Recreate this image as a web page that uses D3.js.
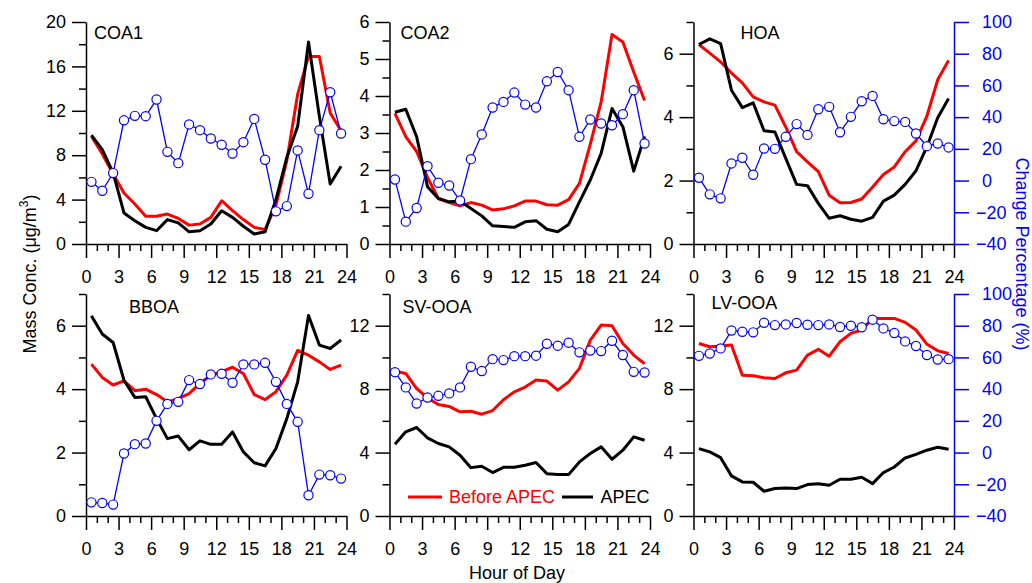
<!DOCTYPE html>
<html>
<head>
<meta charset="utf-8">
<script src="https://cdn.jsdelivr.net/npm/d3@7"></script>
<style>
  html, body { margin: 0; padding: 0; background: #fff; }
  svg { display: block; font-family: "Liberation Sans", Arial, sans-serif; }
</style>
</head>
<body>
<svg id="chart" width="1032" height="583"></svg>
<script>
// Hourly diurnal cycles (hour 0.5 ... 23.5) of OA factors before and during APEC
const hours = d3.range(24).map(h => h + 0.5);

const coa1Before = [9.7, 8.1, 6.3, 4.6, 3.6, 2.5, 2.5, 2.7, 2.3, 1.7, 1.8, 2.4, 3.9, 3.0, 2.2, 1.5, 1.3, 3.5, 7.5, 13.5, 16.9, 16.9, 11.8, 10.2];
const coa1Apec   = [9.8, 8.5, 6.4, 2.8, 2.1, 1.5, 1.2, 2.2, 1.9, 1.1, 1.2, 1.8, 3.0, 2.4, 1.6, 0.9, 1.1, 4.0, 7.8, 10.6, 18.2, 11.5, 5.4, 7.0];
const coa1Change = [-0.8, -6.4, 4.7, 38.0, 40.8, 40.6, 51.1, 18.1, 11.0, 35.4, 31.8, 26.5, 22.6, 17.1, 24.2, 38.9, 13.1, -19.4, -16.1, 19.0, -8.3, 31.8, 55.7, 29.7];

const coa2Before = [3.53, 2.9, 2.5, 1.8, 1.23, 1.12, 1.03, 1.12, 1.05, 0.92, 0.95, 1.03, 1.16, 1.16, 1.06, 1.05, 1.2, 1.64, 2.7, 3.84, 5.66, 5.46, 4.65, 3.88];
const coa2Apec   = [3.56, 3.64, 2.9, 1.55, 1.23, 1.14, 1.16, 0.96, 0.76, 0.49, 0.47, 0.45, 0.6, 0.63, 0.4, 0.33, 0.53, 1.14, 1.73, 2.45, 3.66, 3.17, 1.97, 2.91];
const coa2Change = [0.7, -25.9, -17.3, 9.1, -1.4, -3.1, -12.5, 13.5, 29.1, 46.1, 49.6, 55.5, 47.9, 46.1, 62.6, 68.5, 57.0, 27.6, 38.5, 36.0, 34.9, 41.9, 57.0, 23.4];

const hoaBefore = [6.29, 6.02, 5.74, 5.39, 5.08, 4.64, 4.48, 4.38, 3.69, 2.91, 2.59, 2.28, 1.54, 1.30, 1.31, 1.42, 1.80, 2.19, 2.43, 2.91, 3.25, 4.03, 5.18, 5.79];
const hoaApec   = [6.29, 6.47, 6.32, 4.85, 4.30, 4.45, 3.57, 3.53, 2.70, 1.88, 1.84, 1.28, 0.81, 0.89, 0.78, 0.72, 0.84, 1.35, 1.54, 1.88, 2.31, 3.06, 3.98, 4.59];
const hoaChange = [1.8, -8.7, -11.2, 10.8, 14.4, 3.7, 20.2, 20.0, 27.6, 35.6, 28.8, 45.0, 46.5, 30.5, 40.2, 50.0, 53.4, 38.7, 37.5, 37.0, 29.7, 21.7, 23.4, 20.9];

const bboaBefore = [4.79, 4.37, 4.13, 4.26, 3.95, 4.0, 3.83, 3.6, 3.7, 3.86, 4.18, 4.44, 4.55, 4.69, 4.49, 3.83, 3.67, 3.92, 4.44, 5.22, 5.07, 4.86, 4.62, 4.76];
const bboaApec   = [6.31, 5.74, 5.47, 4.28, 3.74, 3.76, 3.07, 2.44, 2.52, 2.09, 2.37, 2.26, 2.26, 2.65, 2.02, 1.68, 1.58, 2.13, 3.07, 4.23, 6.32, 5.39, 5.28, 5.55];
const bboaChange = [-31.4, -31.8, -32.8, -0.6, 5.3, 5.7, 20.0, 30.7, 32.0, 45.7, 43.2, 49.3, 49.7, 44.0, 55.6, 55.6, 56.6, 44.6, 30.7, 19.4, -26.9, -13.9, -14.3, -16.4];

const svooaBefore = [9.14, 8.99, 8.04, 7.45, 7.03, 6.91, 6.57, 6.61, 6.42, 6.65, 7.33, 7.83, 8.13, 8.57, 8.51, 7.94, 8.46, 9.31, 11.09, 12.04, 12.0, 10.88, 10.15, 9.6];
const svooaApec   = [4.53, 5.31, 5.58, 4.93, 4.57, 4.36, 3.83, 3.05, 3.14, 2.74, 3.07, 3.07, 3.2, 3.37, 2.67, 2.61, 2.61, 3.41, 3.94, 4.36, 3.58, 4.15, 4.99, 4.78];
const svooaChange = [50.7, 41.1, 30.9, 34.7, 35.8, 37.3, 41.1, 54.1, 51.4, 58.9, 58.3, 60.8, 60.8, 61.1, 68.6, 67.4, 69.3, 63.2, 64.4, 64.0, 70.5, 61.5, 50.9, 50.5];

const lvooaBefore = [10.88, 10.67, 10.72, 10.78, 8.88, 8.84, 8.72, 8.67, 9.03, 9.2, 10.15, 10.51, 10.08, 10.99, 11.52, 11.73, 12.46, 12.46, 12.46, 12.21, 11.73, 10.84, 10.42, 10.25];
const lvooaApec   = [4.25, 4.04, 3.68, 2.53, 2.15, 2.13, 1.56, 1.73, 1.77, 1.73, 1.98, 2.04, 1.94, 2.32, 2.32, 2.44, 2.04, 2.74, 3.09, 3.66, 3.89, 4.15, 4.34, 4.21];
const lvooaChange = [61.0, 62.5, 65.7, 77.0, 76.2, 75.8, 81.9, 80.4, 80.8, 81.7, 80.6, 80.4, 80.8, 79.2, 80.0, 79.0, 83.8, 78.3, 75.4, 70.1, 67.2, 61.5, 58.7, 58.9];

const hourTicks = d3.range(0, 25);
const changeTicks = d3.range(-40, 101, 20);
const legendLabels = ["Before APEC", "APEC"];

const RED = "#ff0000", BLUE = "#0000ff", BLACK = "#000000";
const FONT = 18;

const panels = [
  { name: "COA1",   before: coa1Before,  apec: coa1Apec,  change: coa1Change,  yMax: 20, major: 4, minor: 2,   col: 0, row: 0, titleX: 8,  titleY: 17 },
  { name: "COA2",   before: coa2Before,  apec: coa2Apec,  change: coa2Change,  yMax: 6,  major: 1, minor: 0.5, col: 1, row: 0, titleX: 11, titleY: 17 },
  { name: "HOA",    before: hoaBefore,   apec: hoaApec,   change: hoaChange,   yMax: 7,  major: 2, minor: 1,   col: 2, row: 0, titleX: 47, titleY: 17 },
  { name: "BBOA",   before: bboaBefore,  apec: bboaApec,  change: bboaChange,  yMax: 7,  major: 2, minor: 1,   col: 0, row: 1, titleX: 43, titleY: 19 },
  { name: "SV-OOA", before: svooaBefore, apec: svooaApec, change: svooaChange, yMax: 14, major: 4, minor: 2,   col: 1, row: 1, titleX: 13, titleY: 19, legend: true },
  { name: "LV-OOA", before: lvooaBefore, apec: lvooaApec, change: lvooaChange, yMax: 14, major: 4, minor: 2,   col: 2, row: 1, titleX: 18, titleY: 15 }
];

const colX = [86, 389.5, 693.5];
const rowY = [22, 294];
const W = 260.5, H = 222;

const svg = d3.select("#chart");

const isMultiple = (v, step) => Math.abs(v / step - Math.round(v / step)) < 1e-6;

function styleAxis(g, color) {
  g.attr("font-family", null).attr("font-size", null);
  g.select(".domain").attr("stroke", color).attr("stroke-width", 1.5);
  g.selectAll(".tick line").attr("stroke", color).attr("stroke-width", 1.5);
  g.selectAll(".tick text").attr("fill", color).style("font-size", FONT + "px");
}

panels.forEach(p => {
  const x0 = colX[p.col], y0 = rowY[p.row];
  const g = svg.append("g").attr("transform", `translate(${x0},${y0})`);

  const x = d3.scaleLinear().domain([0, 24]).range([0, W]);
  const y = d3.scaleLinear().domain([0, p.yMax]).range([H, 0]);
  const yR = d3.scaleLinear().domain([-40, 100]).range([H, 0]);

  // bottom hour axis: minor tick every hour, labelled every 3 hours
  const xAxis = g.append("g").attr("transform", `translate(0,${H})`)
    .call(d3.axisBottom(x).tickValues(hourTicks).tickSizeInner(7).tickSizeOuter(0).tickPadding(19)
      .tickFormat(d => d % 3 === 0 ? d : ""));
  styleAxis(xAxis, BLACK);
  xAxis.selectAll(".tick line").filter(d => d % 3 === 0).attr("y2", 14);

  // left concentration axis
  const yTicks = d3.range(0, p.yMax + 1e-9, p.minor);
  const yAxis = g.append("g")
    .call(d3.axisLeft(y).tickValues(yTicks).tickSizeInner(7).tickSizeOuter(0).tickPadding(13)
      .tickFormat(d => isMultiple(d, p.major) ? d3.format("d")(d) : ""));
  styleAxis(yAxis, BLACK);
  yAxis.selectAll(".tick line").filter(d => isMultiple(d, p.major)).attr("x2", -14);

  // right change-percentage axis on the last column
  const yRScale = yR;
  if (p.col === 2) {
    const rAxis = g.append("g").attr("transform", `translate(${W},0)`)
      .call(d3.axisRight(yR).tickValues(changeTicks).tickSizeInner(15).tickSizeOuter(0).tickPadding(13)
        .tickFormat(d3.format("d")));
    styleAxis(rAxis, BLUE);
    rAxis.selectAll(".tick text").attr("x", d => d < 0 ? 22 : 28);
  }

  const line = vals => d3.line().x((d, i) => x(hours[i])).y(d => y(d))(vals);

  g.append("path").attr("d", line(p.before))
    .attr("fill", "none").attr("stroke", RED).attr("stroke-width", 3)
    .attr("stroke-linejoin", "round");
  g.append("path").attr("d", line(p.apec))
    .attr("fill", "none").attr("stroke", BLACK).attr("stroke-width", 3)
    .attr("stroke-linejoin", "round");

  const changeLine = d3.line().x((d, i) => x(hours[i])).y(d => yRScale(d));
  g.append("path").attr("d", changeLine(p.change))
    .attr("fill", "none").attr("stroke", BLUE).attr("stroke-width", 1.3);
  g.selectAll("circle.chg").data(p.change).join("circle")
    .attr("class", "chg")
    .attr("cx", (d, i) => x(hours[i]))
    .attr("cy", d => yRScale(d))
    .attr("r", 4.6)
    .attr("fill", "#fff").attr("stroke", BLUE).attr("stroke-width", 1.2);

  g.append("text").attr("x", p.titleX).attr("y", p.titleY)
    .style("font-size", FONT + "px").attr("fill", BLACK).text(p.name);

  if (p.legend) {
    const lg = g.append("g").attr("transform", `translate(0,${H - 19})`);
    const items = [
      { label: legendLabels[0], color: RED,   x1: 18.5, x2: 52.5, tx: 59.5 },
      { label: legendLabels[1], color: BLACK, x1: 172.5, x2: 203.5, tx: 211 }
    ];
    items.forEach(it => {
      lg.append("line").attr("x1", it.x1).attr("x2", it.x2).attr("y1", 0).attr("y2", 0)
        .attr("stroke", it.color).attr("stroke-width", 3);
      lg.append("text").attr("x", it.tx).attr("y", 0).attr("dy", "0.35em")
        .style("font-size", FONT + "px").attr("fill", it.color).text(it.label);
    });
  }
});

// shared axis titles
svg.append("text")
  .attr("transform", "translate(36,274) rotate(-90)")
  .attr("text-anchor", "middle")
  .style("font-size", FONT + "px")
  .call(t => {
    t.append("tspan").text("Mass Conc. (μg/m");
    t.append("tspan").attr("dy", -8).style("font-size", "12px").text("3");
    t.append("tspan").attr("dy", 8).text(")");
  });

svg.append("text")
  .attr("transform", "translate(1016,254) rotate(90)")
  .attr("text-anchor", "middle")
  .attr("fill", BLUE)
  .style("font-size", FONT + "px")
  .text("Change Percentage (%)");

svg.append("text")
  .attr("x", 517).attr("y", 579)
  .attr("text-anchor", "middle")
  .style("font-size", FONT + "px")
  .text("Hour of Day");
</script>
</body>
</html>
